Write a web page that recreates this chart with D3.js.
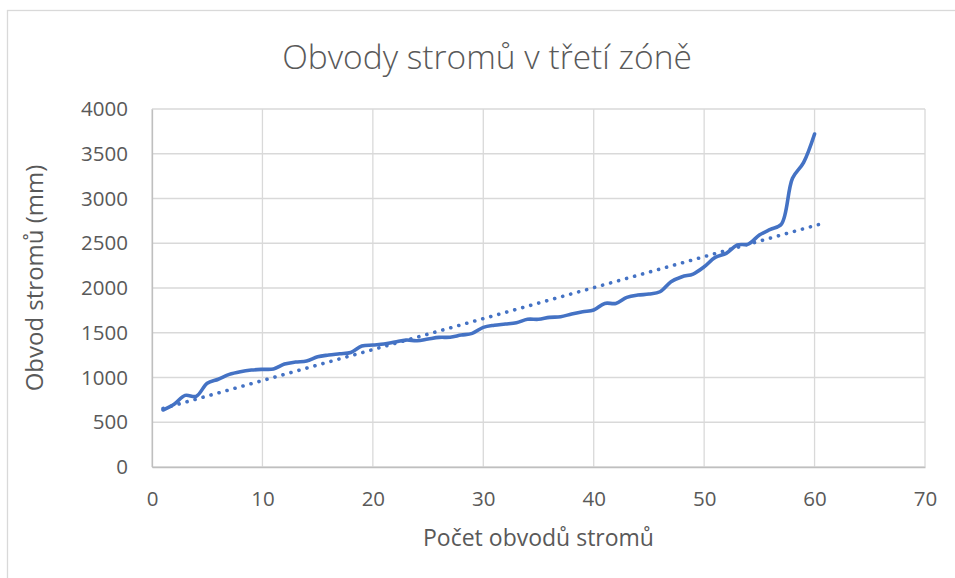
<!DOCTYPE html>
<meta charset="utf-8">
<style>
body { margin: 0; background: #fff; }
svg text { font-family: "Open Sans", Lato, sans-serif; fill: #595959; }
.grid line { stroke: #d9d9d9; stroke-width: 1.3; }
.tick text { font-size: 20.5px; }
</style>
<svg width="955" height="578"></svg>
<script src="https://cdn.jsdelivr.net/npm/d3@7"></script>
<script>

var title = "Obvody stromů v třetí zóně",
    xTitle = "Počet obvodů stromů",
    yTitle = "Obvod stromů (mm)";

// pořadí stromu 1..60
var counts = d3.range(1, 61);
var girths = [
  637, 700, 800, 790, 935, 980, 1035, 1065, 1083, 1091,
  1095, 1150, 1173, 1184, 1232, 1251, 1265, 1280, 1351, 1363,
  1374, 1396, 1418, 1411, 1430, 1448, 1450, 1474, 1493, 1560,
  1584, 1597, 1612, 1650, 1650, 1672, 1679, 1709, 1735, 1754,
  1828, 1828, 1895, 1921, 1932, 1958, 2070, 2126, 2156, 2237,
  2342, 2387, 2480, 2491, 2591, 2655, 2714, 3225, 3400, 3720
];
var xTicks = [0, 10, 20, 30, 40, 50, 60, 70];
var yTicks = [0, 500, 1000, 1500, 2000, 2500, 3000, 3500, 4000];

var svg = d3.select("svg"),
    margin = {top: 109, right: 30, bottom: 111, left: 152},
    width = 925 - margin.left,
    height = 467 - margin.top;

// rámeček grafu
svg.append("rect")
    .attr("x", 7.5).attr("y", 10.5)
    .attr("width", 970).attr("height", 600)
    .attr("fill", "none").attr("stroke", "#d9d9d9").attr("stroke-width", 1.3);

var g = svg.append("g").attr("transform", "translate(" + margin.left + "," + margin.top + ")");

var x = d3.scaleLinear().domain([0, 70]).range([0, width]);
var y = d3.scaleLinear().domain([0, 4000]).range([height, 0]);

g.append("g").attr("class", "grid")
  .selectAll("line").data(yTicks).enter().append("line")
    .attr("x1", 0).attr("x2", width)
    .attr("y1", function(d) { return y(d); }).attr("y2", function(d) { return y(d); });

g.append("g").attr("class", "grid")
  .selectAll("line").data(xTicks).enter().append("line")
    .attr("y1", 0).attr("y2", height)
    .attr("x1", function(d) { return x(d); }).attr("x2", function(d) { return x(d); });

var xAxis = g.append("g")
    .attr("transform", "translate(0," + height + ")")
    .call(d3.axisBottom(x).tickValues(xTicks).tickFormat(d3.format("d")).tickSize(0).tickPadding(24));
xAxis.select(".domain").attr("stroke", "#bfbfbf").attr("stroke-width", 1.3);

var yAxis = g.append("g")
    .call(d3.axisLeft(y).tickValues(yTicks).tickFormat(d3.format("d")).tickSize(0).tickPadding(24));
yAxis.select(".domain").attr("stroke", "#bfbfbf").attr("stroke-width", 1.3);
g.selectAll(".tick text").attr("fill", "#595959");

// lineární spojnice trendu (nejmenší čtverce), prodloužená o 1 období
var mx = d3.mean(counts), my = d3.mean(girths),
    sxy = d3.sum(counts, function(c, i) { return (c - mx) * (girths[i] - my); }),
    sxx = d3.sum(counts, function(c) { return (c - mx) * (c - mx); }),
    slope = sxy / sxx, icpt = my - slope * mx;
var trendX = [1, 61];

g.append("path")
    .datum(trendX)
    .attr("fill", "none")
    .attr("stroke", "#4472c4")
    .attr("stroke-width", 3.6)
    .attr("stroke-linecap", "round")
    .attr("stroke-dasharray", "0.1 8.2")
    .attr("d", d3.line()
        .x(function(d) { return x(d); })
        .y(function(d) { return y(icpt + slope * d); }));

g.append("path")
    .datum(counts)
    .attr("fill", "none")
    .attr("stroke", "#4472c4")
    .attr("stroke-width", 3.6)
    .attr("stroke-linejoin", "round")
    .attr("stroke-linecap", "round")
    .attr("d", d3.line()
        .curve(d3.curveCatmullRom)
        .x(function(d) { return x(d); })
        .y(function(d, i) { return y(girths[i]); }));

svg.append("text")
    .attr("x", 487).attr("y", 69)
    .attr("text-anchor", "middle")
    .style("font-size", "33.5px").style("font-weight", 300)
    .text(title);

svg.append("text")
    .attr("x", margin.left + width / 2).attr("y", 546)
    .attr("text-anchor", "middle")
    .style("font-size", "23px")
    .text(xTitle);

svg.append("text")
    .attr("transform", "translate(43,278) rotate(-90)")
    .attr("text-anchor", "middle")
    .style("font-size", "24px")
    .text(yTitle);

</script>
